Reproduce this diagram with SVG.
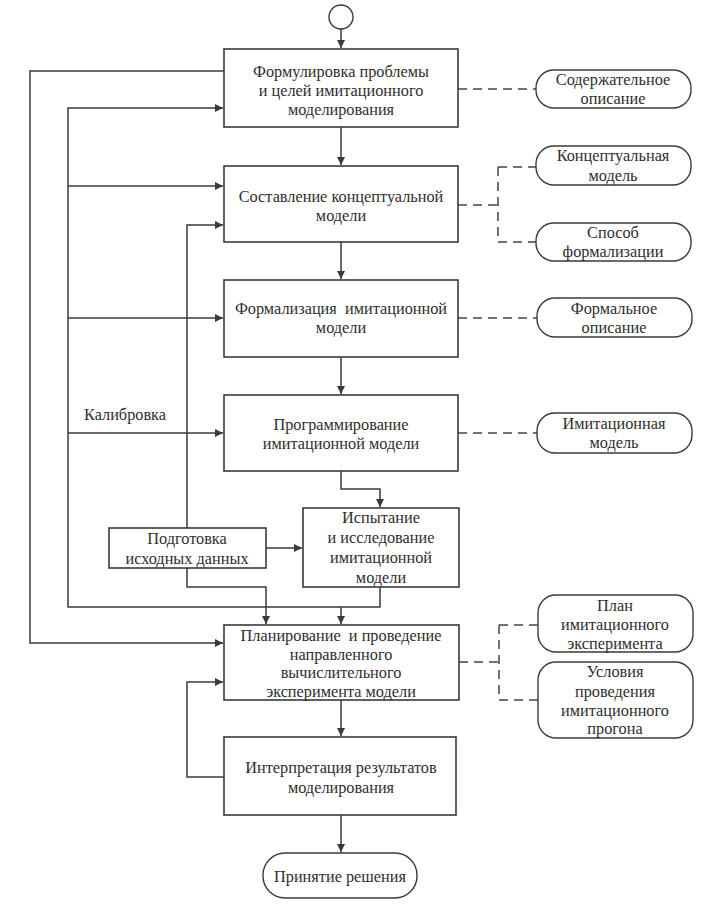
<svg xmlns="http://www.w3.org/2000/svg" width="716" height="910" viewBox="0 0 716 910">
<style>
  .box{fill:#fff;stroke:#3a3a3a;stroke-width:1.6}
  .rnd{fill:#fff;stroke:#3a3a3a;stroke-width:1.4}
  .ln{fill:none;stroke:#3a3a3a;stroke-width:1.5}
  .dash{fill:none;stroke:#444;stroke-width:1.5;stroke-dasharray:9,6}
</style>
<defs>
  <marker id="ar" viewBox="0 0 10 10" refX="10" refY="5" markerWidth="10" markerHeight="8" markerUnits="userSpaceOnUse" orient="auto">
    <path d="M0,0 L10,5 L0,10 z" fill="#3a3a3a"/>
  </marker>
</defs>
<rect width="716" height="910" fill="#fff"/>

<g id="connectors">
  <path class="ln" d="M341,29 V48" marker-end="url(#ar)"/>
  <path class="ln" d="M341,127 V165" marker-end="url(#ar)"/>
  <path class="ln" d="M341,242 V279" marker-end="url(#ar)"/>
  <path class="ln" d="M341,357 V394" marker-end="url(#ar)"/>
  <path class="ln" d="M341,471 V489 H380 V507" marker-end="url(#ar)"/>
  <path class="ln" d="M224,71 H30 V643 H223" marker-end="url(#ar)"/>
  <path class="ln" d="M380,587 V607 H68 V108 H223" marker-end="url(#ar)"/>
  <path class="ln" d="M68,186 H223" marker-end="url(#ar)"/>
  <path class="ln" d="M68,318 H223" marker-end="url(#ar)"/>
  <path class="ln" d="M68,433 H223" marker-end="url(#ar)"/>
  <path class="ln" d="M341,607 V624" marker-end="url(#ar)"/>
  <path class="ln" d="M187,528 V225 H223" marker-end="url(#ar)"/>
  <path class="ln" d="M187,568 V587 H266 V624" marker-end="url(#ar)"/>
  <path class="ln" d="M266,548 H302" marker-end="url(#ar)"/>
  <path class="ln" d="M341,700 V736" marker-end="url(#ar)"/>
  <path class="ln" d="M224,777 H187 V682 H223" marker-end="url(#ar)"/>
  <path class="ln" d="M341,815 V852" marker-end="url(#ar)"/>
  <path class="dash" d="M458,89 H536"/>
  <path class="dash" d="M458,205 H498 M498,167 V242 M498,167 H536 M498,242 H536"/>
  <path class="dash" d="M458,318 H537"/>
  <path class="dash" d="M458,433 H537"/>
  <path class="dash" d="M459,662 H499 M499,625 V700 M499,625 H538 M499,700 H538"/>
</g>

<g id="start"><circle cx="341" cy="17" r="12" fill="#fff" stroke="#3a3a3a" stroke-width="1.4"/></g>

<g font-family="Liberation Serif, DejaVu Serif, serif" font-size="16.3" fill="#2e2e2e" text-anchor="middle">
<g id="n1"><rect class="box" x="224" y="49" width="234" height="78"/>
  <text x="341" y="77">Формулировка проблемы</text>
  <text x="341" y="96">и целей имитационного</text>
  <text x="341" y="115">моделирования</text></g>
<g id="n2"><rect class="box" x="224" y="166" width="234" height="76"/>
  <text x="341" y="202">Составление концептуальной</text>
  <text x="341" y="221">модели</text></g>
<g id="n3"><rect class="box" x="224" y="280" width="234" height="77"/>
  <text x="341" y="314" xml:space="preserve">Формализация  имитационной</text>
  <text x="341" y="333">модели</text></g>
<g id="n4"><rect class="box" x="224" y="395" width="234" height="76"/>
  <text x="341" y="430">Программирование</text>
  <text x="341" y="449">имитационной модели</text></g>
<g id="n5"><rect class="box" x="303" y="508" width="156" height="79"/>
  <text x="381" y="523">Испытание</text>
  <text x="381" y="543">и исследование</text>
  <text x="381" y="563">имитационной</text>
  <text x="381" y="583">модели</text></g>
<g id="n_prep"><rect class="box" x="109" y="528" width="157" height="40"/>
  <text x="187" y="544">Подготовка</text>
  <text x="187" y="564">исходных данных</text></g>
<g id="n6"><rect class="box" x="224" y="625" width="235" height="75"/>
  <text x="341" y="641" xml:space="preserve">Планирование  и проведение</text>
  <text x="341" y="660">направленного</text>
  <text x="341" y="678">вычислительного</text>
  <text x="341" y="697">эксперимента модели</text></g>
<g id="n7"><rect class="box" x="224" y="737" width="232" height="78"/>
  <text x="341" y="773">Интерпретация результатов</text>
  <text x="341" y="793">моделирования</text></g>
<g id="end"><rect class="rnd" x="263" y="853" width="154" height="45" rx="22"/>
  <text x="340" y="882">Принятие решения</text></g>

<g id="o1"><rect class="rnd" x="536" y="70" width="155" height="38" rx="18"/>
  <text x="613" y="85">Содержательное</text>
  <text x="613" y="104">описание</text></g>
<g id="o2"><rect class="rnd" x="536" y="146" width="155" height="39" rx="18"/>
  <text x="613" y="161">Концептуальная</text>
  <text x="613" y="181">модель</text></g>
<g id="o3"><rect class="rnd" x="536" y="223" width="155" height="38" rx="18"/>
  <text x="613" y="238">Способ</text>
  <text x="613" y="257">формализации</text></g>
<g id="o4"><rect class="rnd" x="537" y="298" width="155" height="39" rx="18"/>
  <text x="614" y="314">Формальное</text>
  <text x="614" y="333">описание</text></g>
<g id="o5"><rect class="rnd" x="537" y="413" width="155" height="40" rx="18"/>
  <text x="614" y="429">Имитационная</text>
  <text x="614" y="448">модель</text></g>
<g id="o6"><rect class="rnd" x="538" y="595" width="155" height="57" rx="18"/>
  <text x="615" y="611">План</text>
  <text x="615" y="630">имитационного</text>
  <text x="615" y="649">эксперимента</text></g>
<g id="o7"><rect class="rnd" x="538" y="662" width="155" height="76" rx="18"/>
  <text x="615" y="677">Условия</text>
  <text x="615" y="697">проведения</text>
  <text x="615" y="716">имитационного</text>
  <text x="615" y="734">прогона</text></g>
<text x="125" y="420">Калибровка</text>
</g>
</svg>
